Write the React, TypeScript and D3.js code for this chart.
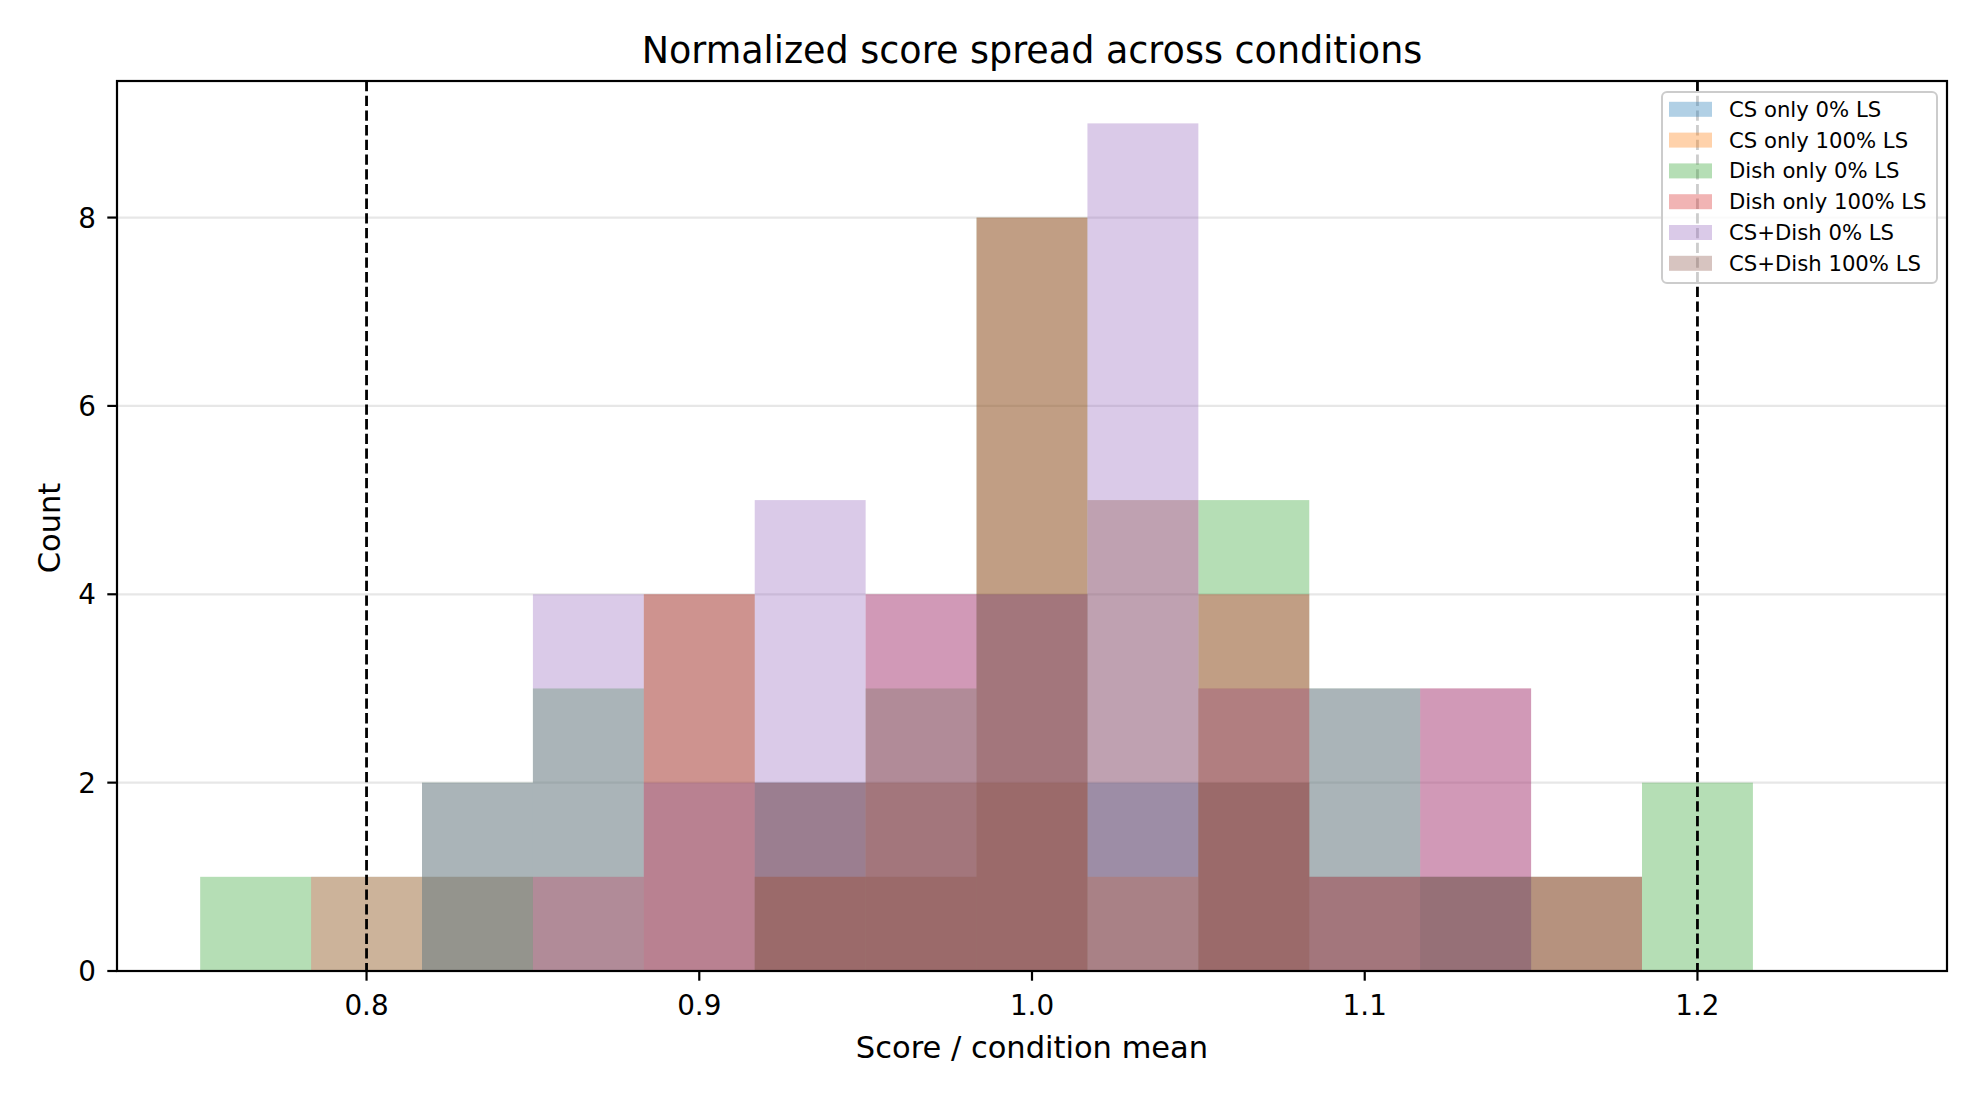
import React from 'react';
import * as d3 from 'd3';

// histogram bins: 15 bins of width 1/30 starting at 0.75
const binStart = 0.75;
const binWidth = 1 / 30;
const binCount = 15;

const seriesNames = [
  'CS only 0% LS',
  'CS only 100% LS',
  'Dish only 0% LS',
  'Dish only 100% LS',
  'CS+Dish 0% LS',
  'CS+Dish 100% LS',
];
const seriesColors = ['#1f77b4', '#ff7f0e', '#2ca02c', '#d62728', '#9467bd', '#8c564b'];

// counts per bin
const csOnly0 = [0, 1, 1, 0, 0, 2, 2, 4, 2, 2, 1, 1, 1, 0, 0];
const csOnly100 = [0, 1, 1, 0, 0, 1, 2, 4, 1, 3, 1, 0, 1, 0, 0];
const dishOnly0 = [1, 0, 2, 3, 0, 2, 3, 8, 0, 5, 3, 1, 0, 2, 0];
const dishOnly100 = [0, 0, 0, 1, 4, 2, 4, 8, 0, 4, 1, 3, 0, 0, 0];
const csDish0 = [0, 0, 2, 4, 2, 5, 4, 4, 9, 3, 3, 3, 0, 0, 0];
const csDish100 = [0, 0, 0, 0, 4, 1, 1, 2, 5, 2, 0, 1, 1, 0, 0];
const allCounts = [csOnly0, csOnly100, dishOnly0, dishOnly100, csDish0, csDish100];

const xTicks = [0.8, 0.9, 1.0, 1.1, 1.2];
const yTicks = [0, 2, 4, 6, 8];
const refLines = [0.8, 1.2];

const W = 1980;
const H = 1100;
const left = 117;
const right = 1947;
const top = 81;
const bottom = 971;
const font = 'DejaVu Sans';

const App = () => {
  const x = d3.scaleLinear().domain([0.725, 1.275]).range([left, right]);
  const y = d3.scaleLinear().domain([0, 9.45]).range([bottom, top]);

  const bins = d3.range(binCount).map(i => [binStart + i * binWidth, binStart + (i + 1) * binWidth]);

  return (
    <svg width={W} height={H} style={{ position: 'absolute', left: 0, top: 0, background: '#fff' }}
      fontFamily={font}>
      <rect x={0} y={0} width={W} height={H} fill="#fff" />

      {/* grid */}
      {yTicks.map(t => (
        <line key={'g' + t} x1={left} x2={right} y1={y(t)} y2={y(t)}
          stroke="#b0b0b0" strokeOpacity={0.3} strokeWidth={2.2} />
      ))}

      {/* bars, drawn in legend order so later series sit on top */}
      {allCounts.map((counts, si) => (
        <g key={si} fill={seriesColors[si]} fillOpacity={0.35}>
          {counts.map((c, bi) => c > 0 ? (
            <rect key={bi}
              x={x(bins[bi][0])}
              width={x(bins[bi][1]) - x(bins[bi][0])}
              y={y(c)}
              height={y(0) - y(c)} />
          ) : null)}
        </g>
      ))}

      {/* reference lines */}
      {refLines.map(v => (
        <line key={'r' + v} x1={x(v)} x2={x(v)} y1={top} y2={bottom}
          stroke="#000" strokeWidth={2.8} strokeDasharray="10.3,4.4" />
      ))}

      {/* spines */}
      <rect x={left} y={top} width={right - left} height={bottom - top}
        fill="none" stroke="#000" strokeWidth={2.2} />

      {/* x axis */}
      {xTicks.map(t => (
        <g key={'x' + t}>
          <line x1={x(t)} x2={x(t)} y1={bottom} y2={bottom + 9.7} stroke="#000" strokeWidth={2.2} />
          <text x={x(t)} y={1015} textAnchor="middle" fontSize={27.8}>{t.toFixed(1)}</text>
        </g>
      ))}
      {/* y axis */}
      {yTicks.map(t => (
        <g key={'y' + t}>
          <line x1={left - 9.7} x2={left} y1={y(t)} y2={y(t)} stroke="#000" strokeWidth={2.2} />
          <text x={96} y={y(t) + 10} textAnchor="end" fontSize={27.8}>{t}</text>
        </g>
      ))}

      <text x={(left + right) / 2} y={1058} textAnchor="middle" fontSize={30.5}>Score / condition mean</text>
      <text transform={`translate(60,${(top + bottom) / 2 + 2}) rotate(-90)`} textAnchor="middle" fontSize={30.5}>Count</text>
      <text x={(left + right) / 2} y={63} textAnchor="middle" fontSize={36.5}>Normalized score spread across conditions</text>

      {/* legend */}
      <g>
        <rect x={1662} y={92} width={275} height={191} rx={5} fill="#fff" fillOpacity={0.8}
          stroke="#cccccc" strokeWidth={2} />
        {seriesNames.map((name, i) => {
          const cy = 109.3 + i * 30.8;
          return (
            <g key={name}>
              <rect x={1669} y={cy - 7.5} width={43} height={15} fill={seriesColors[i]} fillOpacity={0.35} />
              <text x={1729} y={cy + 7.5} fontSize={21.2}>{name}</text>
            </g>
          );
        })}
      </g>
    </svg>
  );
};

export default App;
